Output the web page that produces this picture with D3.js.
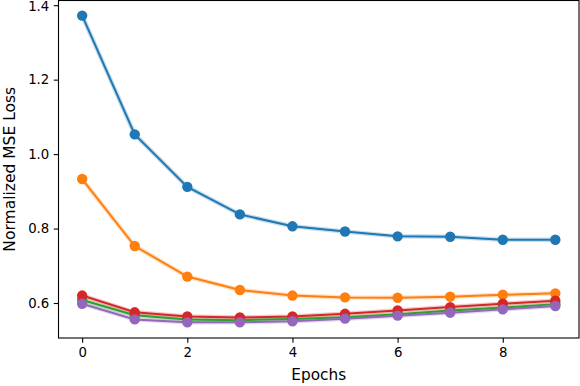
<!DOCTYPE html>
<html>
<head>
<meta charset="utf-8">
<script src="https://cdn.jsdelivr.net/npm/d3@7"></script>
<style>
  body { margin: 0; background: #fff; }
  text { font-family: "DejaVu Sans", sans-serif; fill: #000; }
</style>
</head>
<body>
<svg id="chart" width="580" height="386"></svg>
<script>
const epochs = [0, 1, 2, 3, 4, 5, 6, 7, 8, 9];
const blue   = [1.372, 1.053, 0.912, 0.838, 0.806, 0.792, 0.779, 0.778, 0.770, 0.770];
const orange = [0.933, 0.753, 0.671, 0.635, 0.620, 0.615, 0.614, 0.617, 0.622, 0.626];
const green  = [0.608, 0.567, 0.556, 0.554, 0.557, 0.562, 0.570, 0.580, 0.588, 0.597];
const red    = [0.620, 0.575, 0.564, 0.561, 0.564, 0.571, 0.580, 0.589, 0.598, 0.606];
const purple = [0.598, 0.556, 0.548, 0.548, 0.551, 0.558, 0.566, 0.574, 0.583, 0.592];
const xTicks = [0, 2, 4, 6, 8];
const yTicks = [0.6, 0.8, 1.0, 1.2, 1.4];

const series = [
    {name: 'blue', values: blue, color: '#1f77b4'},
    {name: 'orange', values: orange, color: '#ff7f0e'},
    {name: 'green', values: green, color: '#2ca02c'},
    {name: 'red', values: red, color: '#d62728'},
    {name: 'purple', values: purple, color: '#9467bd'}
];

const svg = d3.select('#chart');
const mLeft = 58.5, mRight = 579, mTop = 0.5, mBottom = 338;

const x = d3.scaleLinear().domain([-0.45, 9.45]).range([mLeft, mRight]);
const y = d3.scaleLinear().domain([0.506, 1.4126]).range([mBottom, mTop]);

const line = d3.line()
    .x((d, i) => x(epochs[i]))
    .y(d => y(d));

const plot = svg.append('g');

// faint halo under each line
plot.selectAll('path.halo')
    .data(series)
    .enter()
    .append('path')
        .attr('class', 'halo')
        .attr('d', d => line(d.values))
        .attr('fill', 'none')
        .attr('stroke', d => d.color)
        .attr('stroke-width', 4.5)
        .attr('stroke-opacity', 0.25);

const groups = plot.selectAll('g.series')
    .data(series)
    .enter()
    .append('g')
        .attr('class', 'series');

groups.append('path')
    .attr('d', d => line(d.values))
    .attr('fill', 'none')
    .attr('stroke', d => d.color)
    .attr('stroke-width', 2);

groups.selectAll('circle')
    .data(d => d.values.map(v => ({v: v, color: d.color})))
    .enter()
    .append('circle')
        .attr('cx', (d, i) => x(epochs[i]))
        .attr('cy', d => y(d.v))
        .attr('r', 5.2)
        .attr('fill', d => d.color);

// axes
const xAxis = svg.append('g')
    .attr('transform', `translate(0,${mBottom})`)
    .call(d3.axisBottom(x).tickValues(xTicks).tickFormat(d3.format('d')).tickSizeOuter(0).tickSize(4.7).tickPadding(4.5));
const yAxis = svg.append('g')
    .attr('transform', `translate(${mLeft},0)`)
    .call(d3.axisLeft(y).tickValues(yTicks).tickFormat(d3.format('.1f')).tickSizeOuter(0).tickSize(4.7).tickPadding(4.5));

[xAxis, yAxis].forEach(a => {
    a.select('.domain').remove();
    a.selectAll('line').attr('stroke', '#000').attr('stroke-width', 1.1);
    a.selectAll('text').style('font-size', '13.3px').style('font-family', '"DejaVu Sans", sans-serif').attr('fill', '#000');
});
// keep the top label inside the page
yAxis.selectAll('.tick text').filter(d => d === 1.4).attr('y', 1);

// frame
svg.append('rect')
    .attr('x', mLeft).attr('y', mTop)
    .attr('width', mRight - mLeft).attr('height', mBottom - mTop)
    .attr('fill', 'none')
    .attr('stroke', '#000')
    .attr('stroke-width', 1.1);

svg.append('text')
    .attr('x', (mLeft + mRight) / 2)
    .attr('y', 380)
    .attr('text-anchor', 'middle')
    .style('font-size', '15.3px')
    .text('Epochs');

svg.append('text')
    .attr('transform', `translate(10,${(mTop + mBottom) / 2}) rotate(-90)`)
    .attr('text-anchor', 'middle')
    .attr('dy', '0.35em')
    .style('font-size', '15.5px')
    .text('Normalized MSE Loss');
</script>
</body>
</html>
